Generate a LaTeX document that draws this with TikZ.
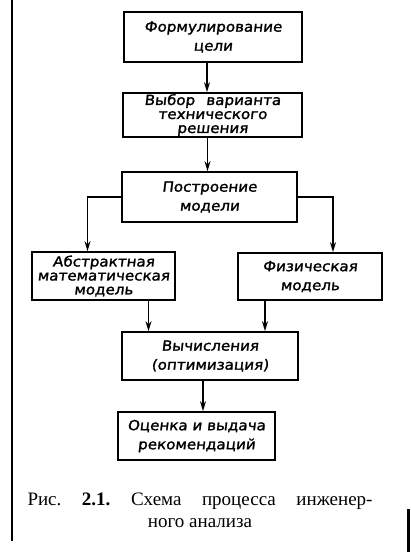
\documentclass[tikz,border=0pt]{standalone}
\usepackage{fontspec}
\setmainfont{Liberation Serif}
\newfontfamily\draftfont[FakeStretch=1.08, FakeSlant=0.12, FakeBold=1.6]{DejaVu Sans}
\usetikzlibrary{arrows.meta}

\begin{document}
\frenchspacing
\begin{tikzpicture}[x=1pt, y=-1pt,
  blk/.style={draw, line width=1.7pt, inner sep=0pt, align=center,
    font=\draftfont\fontsize{14}{19}\selectfont},
  tight/.style={font=\draftfont\fontsize{14}{14}\selectfont},
  flow/.style={line width=1.4pt, -{Stealth[length=10pt, width=6pt]}}]
  \useasboundingbox (0,0) rectangle (410,552);
  % page rule and edge mark of the scan
  \draw[line width=1.4pt] (12,0) -- (12,541);
  \fill (407,509) rectangle (410,552);
  % blocks: name/style/centre/size/text
  \foreach \n/\s/\x/\y/\w/\h/\t in {
      goal/blk/213/37/178/50/{Формулирование\\ цели},
      choice/tight/212.5/115/179/44/{Выбор\hspace{0.8em}варианта\\ технического\\ решения},
      build/blk/209.5/197/175/50/{Построение\\ модели},
      abs/tight/103.5/276/143/48/{Абстрактная\\ математическая\\ модель},
      phys/blk/310/276.5/144/47/{Физическая\\ модель},
      calc/blk/210/356/176/48/{Вычисления\\ (оптимизация)},
      rec/blk/196.5/436/157/48/{Оценка и выдача\\ рекомендаций}} {
    \node[blk, \s, minimum width=\w pt, minimum height=\h pt] (\n) at (\x,\y) {\t};
  }
  \draw[flow] ([xshift=-6pt]goal.south) -- ([xshift=-6pt]goal.south |- choice.north);
  \draw[flow] ([xshift=-5pt]choice.south) -- ([xshift=-5pt]choice.south |- build.north);
  \draw[flow] (build.west) -| ([xshift=-16pt]abs.north);
  \draw[flow] (build.east) -| ([xshift=23pt]phys.north);
  \draw[flow] ([xshift=45pt]abs.south) -- ([xshift=45pt]abs.south |- calc.north);
  \draw[flow] ([xshift=-45pt]phys.south) -- ([xshift=-45pt]phys.south |- calc.north);
  \draw[flow] ([xshift=-7pt]calc.south) -- ([xshift=-7pt]calc.south |- rec.north);
  % caption
  \node[font=\fontsize{19}{22}\selectfont, align=center] (cap) at (200,510)
    {\makebox[345pt][s]{Рис. \textbf{2.1.} Схема процесса инженер-}\\ ного анализа};
\end{tikzpicture}
\end{document}
